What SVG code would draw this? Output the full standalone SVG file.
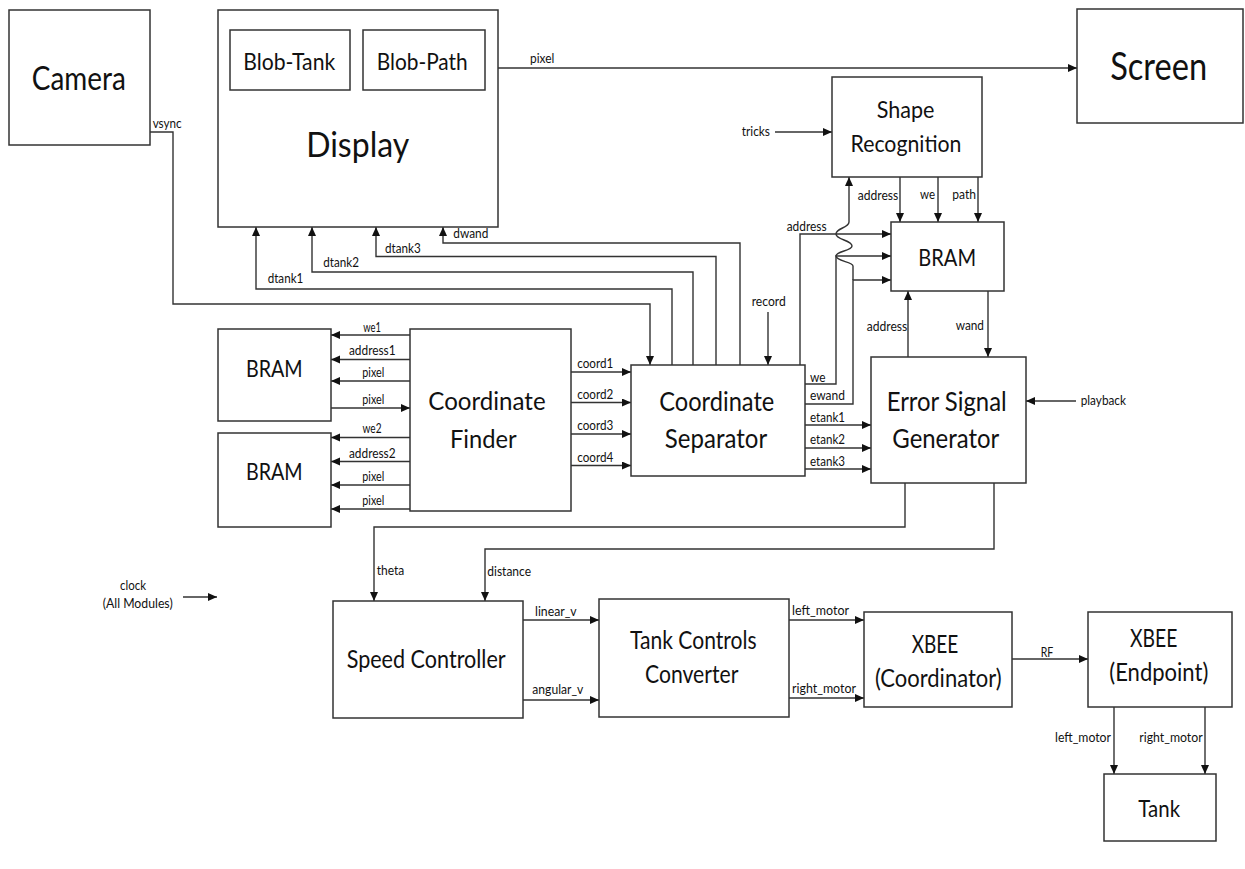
<svg xmlns="http://www.w3.org/2000/svg" width="1245" height="869" viewBox="0 0 1245 869">
<style>
.box{fill:#fff;stroke:#333;stroke-width:1.5}
.w{fill:none;stroke:#333;stroke-width:1.4}
.a{marker-end:url(#arr)}
text{font-family:Lato,"Liberation Sans",Arial,sans-serif;fill:#111}
.t{text-anchor:middle}
.s{font-size:13px}
.sc{font-size:13px;text-anchor:middle}
</style>
<defs>
<marker id="arr" markerUnits="userSpaceOnUse" markerWidth="10" markerHeight="10" refX="9" refY="4" orient="auto">
<path d="M0,0 L9,4 L0,8 z" fill="#111"/>
</marker>
</defs>
<rect width="1245" height="869" fill="#fff"/>

<g id="connectors">
<path class="w a" d="M498,68 H1077"/>
<path class="w a" d="M150,132 H173 V304 H650 V365"/>
<path class="w a" d="M672,365 V289 H256 V227"/>
<path class="w a" d="M693,365 V272 H312 V227"/>
<path class="w a" d="M716,365 V256.5 H376 V227"/>
<path class="w a" d="M740,365 V243 H443 V227"/>
<path class="w a" d="M775,132 H832"/>
<path class="w a" d="M900,177 V222"/>
<path class="w a" d="M938,177 V222"/>
<path class="w a" d="M978,177 V222"/>
<path class="w a" d="M800,365 V234 H891"/>
<path class="w a" d="M805,384 H836 V256 H891"/>
<path class="w a" d="M805,404 H853 V280 H891"/>
<path class="w a" d="M853,280 V266 C853,262 836,261 836,256 C836,251 852,251 852,246 C852,240 836,240 836,234 C836,228 849,228 849,222 V177"/>
<path class="w a" d="M768,312 V365"/>
<path class="w a" d="M908,357 V291"/>
<path class="w a" d="M988,291 V357"/>
<path class="w a" d="M805,425 H871"/>
<path class="w a" d="M805,448 H871"/>
<path class="w a" d="M805,469 H871"/>
<path class="w a" d="M571,372 H631"/>
<path class="w a" d="M571,402.5 H631"/>
<path class="w a" d="M571,434 H631"/>
<path class="w a" d="M571,465.5 H631"/>
<path class="w a" d="M410,335 H331"/>
<path class="w a" d="M410,359.5 H331"/>
<path class="w a" d="M410,381 H331"/>
<path class="w a" d="M331,408 H410"/>
<path class="w a" d="M410,437.5 H331"/>
<path class="w a" d="M410,461.5 H331"/>
<path class="w a" d="M410,485 H331"/>
<path class="w a" d="M410,509 H331"/>
<path class="w a" d="M1076,401 H1026"/>
<path class="w a" d="M905,483 V527 H374 V601"/>
<path class="w a" d="M994,483 V549 H485 V601"/>
<path class="w a" d="M183,597 H217"/>
<path class="w a" d="M523,620 H599"/>
<path class="w a" d="M523,700 H599"/>
<path class="w a" d="M789,620 H864"/>
<path class="w a" d="M789,698 H864"/>
<path class="w a" d="M1012,659 H1088"/>
<path class="w a" d="M1114,707 V774"/>
<path class="w a" d="M1205,707 V774"/>

<text class="s" x="530" y="63" textLength="24.3" lengthAdjust="spacingAndGlyphs">pixel</text>
<text class="s" x="152.7" y="128.3" textLength="29" lengthAdjust="spacingAndGlyphs">vsync</text>
<text class="s" x="267.7" y="283.3" textLength="35.6" lengthAdjust="spacingAndGlyphs">dtank1</text>
<text class="s" x="323.3" y="266.7" textLength="35.7" lengthAdjust="spacingAndGlyphs">dtank2</text>
<text class="s" x="385" y="253" textLength="35.7" lengthAdjust="spacingAndGlyphs">dtank3</text>
<text class="s" x="453.3" y="238" textLength="35" lengthAdjust="spacingAndGlyphs">dwand</text>
<text class="s" x="741.7" y="136" textLength="28.3" lengthAdjust="spacingAndGlyphs">tricks</text>
<text class="s" x="857.7" y="200" textLength="40.6" lengthAdjust="spacingAndGlyphs">address</text>
<text class="s" x="920" y="199" textLength="15" lengthAdjust="spacingAndGlyphs">we</text>
<text class="s" x="952.3" y="199" textLength="23.7" lengthAdjust="spacingAndGlyphs">path</text>
<text class="s" x="786.7" y="231" textLength="40" lengthAdjust="spacingAndGlyphs">address</text>
<text class="s" x="751.7" y="306" textLength="34" lengthAdjust="spacingAndGlyphs">record</text>
<text class="s" x="866.7" y="331" textLength="40.6" lengthAdjust="spacingAndGlyphs">address</text>
<text class="s" x="955.7" y="330" textLength="28.3" lengthAdjust="spacingAndGlyphs">wand</text>
<text class="sc" x="372" y="331.7" textLength="17.7" lengthAdjust="spacingAndGlyphs">we1</text>
<text class="sc" x="372.3" y="355" textLength="46.7" lengthAdjust="spacingAndGlyphs">address1</text>
<text class="sc" x="373.3" y="376.7" textLength="22" lengthAdjust="spacingAndGlyphs">pixel</text>
<text class="sc" x="373.3" y="404" textLength="22" lengthAdjust="spacingAndGlyphs">pixel</text>
<text class="sc" x="372" y="432.7" textLength="19" lengthAdjust="spacingAndGlyphs">we2</text>
<text class="sc" x="372.3" y="457.7" textLength="46.7" lengthAdjust="spacingAndGlyphs">address2</text>
<text class="sc" x="373.3" y="480.7" textLength="22" lengthAdjust="spacingAndGlyphs">pixel</text>
<text class="sc" x="373.3" y="505" textLength="22" lengthAdjust="spacingAndGlyphs">pixel</text>
<text class="s" x="577.3" y="368.3" textLength="36" lengthAdjust="spacingAndGlyphs">coord1</text>
<text class="s" x="577.3" y="398.5" textLength="36" lengthAdjust="spacingAndGlyphs">coord2</text>
<text class="s" x="577.3" y="430" textLength="36" lengthAdjust="spacingAndGlyphs">coord3</text>
<text class="s" x="577.3" y="461.5" textLength="36" lengthAdjust="spacingAndGlyphs">coord4</text>
<text class="s" x="810" y="381.5" textLength="15.5" lengthAdjust="spacingAndGlyphs">we</text>
<text class="s" x="810" y="400" textLength="35" lengthAdjust="spacingAndGlyphs">ewand</text>
<text class="s" x="810" y="421.5" textLength="35" lengthAdjust="spacingAndGlyphs">etank1</text>
<text class="s" x="810" y="444.3" textLength="35" lengthAdjust="spacingAndGlyphs">etank2</text>
<text class="s" x="810" y="466" textLength="35" lengthAdjust="spacingAndGlyphs">etank3</text>
<text class="s" x="1080.7" y="405" textLength="45.3" lengthAdjust="spacingAndGlyphs">playback</text>
<text class="s" x="376.7" y="575" textLength="27.6" lengthAdjust="spacingAndGlyphs">theta</text>
<text class="s" x="487.3" y="576" textLength="43.7" lengthAdjust="spacingAndGlyphs">distance</text>
<text class="s" x="535" y="616" textLength="41.7" lengthAdjust="spacingAndGlyphs">linear_v</text>
<text class="s" x="532.3" y="694.3" textLength="51" lengthAdjust="spacingAndGlyphs">angular_v</text>
<text class="s" x="792" y="615" textLength="57" lengthAdjust="spacingAndGlyphs">left_motor</text>
<text class="s" x="792" y="692.7" textLength="64" lengthAdjust="spacingAndGlyphs">right_motor</text>
<text class="s" x="1040.7" y="656.7" textLength="12.6" lengthAdjust="spacingAndGlyphs">RF</text>
<text class="s" x="1055" y="741.7" textLength="56" lengthAdjust="spacingAndGlyphs">left_motor</text>
<text class="s" x="1139.3" y="741.7" textLength="63.4" lengthAdjust="spacingAndGlyphs">right_motor</text>
<text class="sc" x="133" y="590" textLength="26" lengthAdjust="spacingAndGlyphs">clock</text>
<text class="sc" x="137.7" y="608.3" textLength="70" lengthAdjust="spacingAndGlyphs">(All Modules)</text>
</g>

<g id="camera">
<rect class="box" x="9" y="10" width="141" height="135"/>
<text class="t" x="78.8" y="90" font-size="33" textLength="94" lengthAdjust="spacingAndGlyphs">Camera</text>
</g>
<g id="display">
<rect class="box" x="218" y="10" width="280" height="217"/>
<text class="t" x="357.7" y="156.7" font-size="35" textLength="103" lengthAdjust="spacingAndGlyphs">Display</text>
</g>
<g id="blob-tank">
<rect class="box" x="230" y="30" width="120" height="60"/>
<text class="t" x="289.2" y="70" font-size="23" textLength="92" lengthAdjust="spacingAndGlyphs">Blob-Tank</text>
</g>
<g id="blob-path">
<rect class="box" x="363" y="30" width="122" height="60"/>
<text class="t" x="422.2" y="70" font-size="23" textLength="91" lengthAdjust="spacingAndGlyphs">Blob-Path</text>
</g>
<g id="screen">
<rect class="box" x="1077" y="9" width="166" height="114"/>
<text class="t" x="1158.7" y="80" font-size="38" textLength="97" lengthAdjust="spacingAndGlyphs">Screen</text>
</g>
<g id="shape-recognition">
<rect class="box" x="832" y="77" width="150" height="100"/>
<text class="t" x="905.5" y="118.3" font-size="24" textLength="57.7" lengthAdjust="spacingAndGlyphs">Shape</text>
<text class="t" x="906" y="151.7" font-size="24" textLength="111" lengthAdjust="spacingAndGlyphs">Recognition</text>
</g>
<g id="bram-path">
<rect class="box" x="891" y="222" width="113" height="69"/>
<text class="t" x="947.2" y="265.7" font-size="24" textLength="57.7" lengthAdjust="spacingAndGlyphs">BRAM</text>
</g>
<g id="bram-1">
<rect class="box" x="218" y="329" width="113" height="92"/>
<text class="t" x="274.3" y="376.7" font-size="23.3" textLength="56.7" lengthAdjust="spacingAndGlyphs">BRAM</text>
</g>
<g id="bram-2">
<rect class="box" x="218" y="433" width="113" height="94"/>
<text class="t" x="274.3" y="480" font-size="23.3" textLength="56.7" lengthAdjust="spacingAndGlyphs">BRAM</text>
</g>
<g id="coordinate-finder">
<rect class="box" x="410" y="329" width="161" height="182"/>
<text class="t" x="487" y="410" font-size="25.6" textLength="117.3" lengthAdjust="spacingAndGlyphs">Coordinate</text>
<text class="t" x="483.3" y="448.3" font-size="25.6" textLength="66.7" lengthAdjust="spacingAndGlyphs">Finder</text>
</g>
<g id="coordinate-separator">
<rect class="box" x="631" y="365" width="174" height="111"/>
<text class="t" x="716.8" y="410.7" font-size="26.5" textLength="115" lengthAdjust="spacingAndGlyphs">Coordinate</text>
<text class="t" x="716" y="448.3" font-size="26.5" textLength="102.3" lengthAdjust="spacingAndGlyphs">Separator</text>
</g>
<g id="error-signal-generator">
<rect class="box" x="871" y="357" width="155" height="126"/>
<text class="t" x="946.7" y="410.7" font-size="26.5" textLength="120" lengthAdjust="spacingAndGlyphs">Error Signal</text>
<text class="t" x="945.8" y="448.3" font-size="26.5" textLength="107" lengthAdjust="spacingAndGlyphs">Generator</text>
</g>
<g id="speed-controller">
<rect class="box" x="333" y="601" width="190" height="117"/>
<text class="t" x="426.2" y="668.3" font-size="25.6" textLength="159" lengthAdjust="spacingAndGlyphs">Speed Controller</text>
</g>
<g id="tank-controls-converter">
<rect class="box" x="599" y="599" width="190" height="118"/>
<text class="t" x="693.3" y="649" font-size="25" textLength="126.7" lengthAdjust="spacingAndGlyphs">Tank Controls</text>
<text class="t" x="691.7" y="682.7" font-size="25" textLength="93.3" lengthAdjust="spacingAndGlyphs">Converter</text>
</g>
<g id="xbee-coordinator">
<rect class="box" x="864" y="612" width="148" height="95"/>
<text class="t" x="935" y="652.7" font-size="24.7" textLength="46.7" lengthAdjust="spacingAndGlyphs">XBEE</text>
<text class="t" x="938.3" y="686.7" font-size="24.7" textLength="126.7" lengthAdjust="spacingAndGlyphs">(Coordinator)</text>
</g>
<g id="xbee-endpoint">
<rect class="box" x="1088" y="612" width="144" height="95"/>
<text class="t" x="1153.7" y="647.3" font-size="24.7" textLength="47.3" lengthAdjust="spacingAndGlyphs">XBEE</text>
<text class="t" x="1158.8" y="680.7" font-size="24.7" textLength="99" lengthAdjust="spacingAndGlyphs">(Endpoint)</text>
</g>
<g id="tank">
<rect class="box" x="1104" y="774" width="112" height="67"/>
<text class="t" x="1159.2" y="817.3" font-size="24" textLength="41.7" lengthAdjust="spacingAndGlyphs">Tank</text>
</g>
</svg>
